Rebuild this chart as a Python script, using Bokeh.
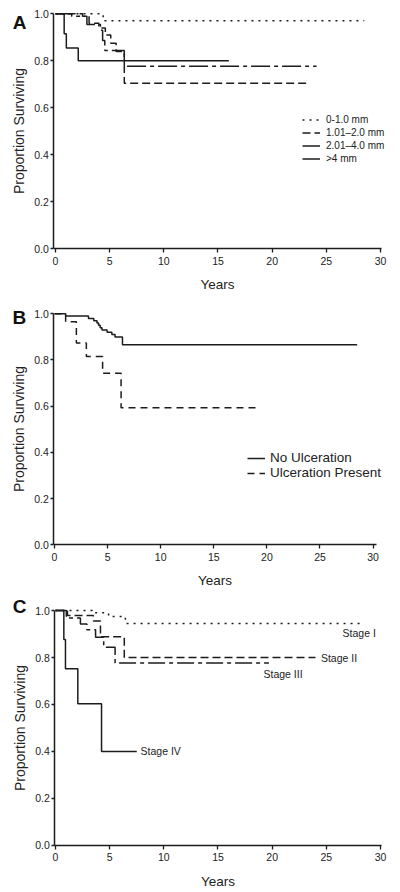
from bokeh.plotting import figure
from bokeh.layouts import column
from bokeh.models import FixedTicker, PrintfTickFormatter, Legend, LegendItem, Label, Range1d
from bokeh.embed import file_html
from bokeh.resources import INLINE

# ---------------- data ----------------
# Panel A: tumour thickness
a_thin_t = [0, 4.4, 28.5]
a_thin_s = [1.0, 0.97, 0.97]
a_mid_t = [0, 2.5, 3.1, 4.0, 4.6, 5.1, 5.6, 6.35, 23.5]
a_mid_s = [1.0, 0.99, 0.96, 0.94, 0.91, 0.875, 0.84, 0.705, 0.705]
a_thick_t = [0, 1.5, 2.9, 4.15, 4.35, 4.55, 6.35, 24.1]
a_thick_s = [1.0, 0.99, 0.955, 0.93, 0.886, 0.844, 0.777, 0.777]
a_gt4_t = [0, 0.8, 1.0, 2.1, 16.0]
a_gt4_s = [1.0, 0.915, 0.855, 0.80, 0.80]
a_labels = ["0-1.0 mm", "1.01\u20132.0 mm", "2.01\u20134.0 mm", ">4 mm"]

# Panel B: ulceration
b_noulc_t = [0, 1.05, 3.2, 3.7, 4.0, 4.15, 4.3, 4.47, 4.95, 5.4, 5.7, 6.4, 28.5]
b_noulc_s = [1.0, 0.99, 0.98, 0.97, 0.96, 0.95, 0.94, 0.93, 0.92, 0.91, 0.90, 0.866, 0.866]
b_ulc_t = [0, 1.05, 2.06, 3.0, 4.53, 6.27, 19.0]
b_ulc_s = [1.0, 0.966, 0.874, 0.815, 0.743, 0.593, 0.593]
b_labels = ["No Ulceration", "Ulceration Present"]

# Panel C: stage
c_s1_t = [0, 3.4, 4.9, 6.45, 28.5]
c_s1_s = [1.0, 0.99, 0.975, 0.945, 0.945]
c_s2_t = [0, 1.1, 3.5, 4.15, 6.35, 24.0]
c_s2_s = [1.0, 0.979, 0.955, 0.888, 0.80, 0.80]
c_s3_t = [0, 1.0, 2.3, 2.9, 3.7, 4.45, 5.5, 19.7]
c_s3_s = [1.0, 0.968, 0.943, 0.918, 0.886, 0.844, 0.777, 0.777]
c_s4_t = [0, 0.77, 0.92, 2.06, 4.25, 7.5]
c_s4_s = [1.0, 0.877, 0.752, 0.603, 0.40, 0.40]
c_labels = ["Stage I", "Stage II", "Stage III", "Stage IV"]

x_ticks = [0, 5, 10, 15, 20, 25, 30]
y_ticks = [0.0, 0.2, 0.4, 0.6, 0.8, 1.0]

INK = "#1c1c1c"
TXT = "#222222"
FONT = "Liberation Sans"


def make_panel(height, xr, xb, yr):
    p = figure(width=392, height=height, output_backend="svg", toolbar_location=None,
               x_range=Range1d(*xr), y_range=Range1d(*yr),
               min_border_left=0, min_border_right=0,
               min_border_top=0, min_border_bottom=0)
    p.title.visible = False
    p.outline_line_color = None
    p.grid.visible = False
    p.background_fill_color = "white"
    p.border_fill_color = "white"
    for ax in (p.xaxis[0], p.yaxis[0]):
        ax.axis_line_width = 1.5
        ax.axis_line_color = INK
        ax.major_tick_line_color = INK
        ax.major_tick_line_width = 1.3
        ax.major_tick_in = 0
        ax.minor_tick_line_color = None
        ax.major_label_text_font = FONT
        ax.major_label_text_font_size = "10.5px"
        ax.major_label_text_color = TXT
        ax.axis_label_text_font = FONT
        ax.axis_label_text_font_style = "normal"
        ax.axis_label_text_color = TXT
    p.xaxis.ticker = FixedTicker(ticks=x_ticks)
    p.yaxis.ticker = FixedTicker(ticks=y_ticks)
    p.yaxis.formatter = PrintfTickFormatter(format="%.1f")
    p.xaxis.bounds = xb
    p.yaxis.bounds = (0, 1.0)
    p.yaxis.fixed_location = xb[0]
    p.xaxis.fixed_location = 0
    p.xaxis.major_tick_out = 4
    p.yaxis.major_tick_out = 3
    p.xaxis.major_label_standoff = 4
    p.yaxis.major_label_standoff = 2
    p.xaxis.axis_label = "Years"
    p.yaxis.axis_label = "Proportion Surviving"
    p.xaxis.axis_label_text_font_size = "13.5px"
    p.yaxis.axis_label_text_font_size = "14px"
    p.xaxis.axis_label_standoff = 9
    p.yaxis.axis_label_standoff = 4
    return p


def letter(p, txt, x, y):
    p.add_layout(Label(x=x, y=y, text=txt, text_font=FONT, text_font_size="19px",
                       text_font_style="bold", text_color="#111111",
                       text_align="center", text_baseline="middle"))


# ---------------- Panel A ----------------
pA = make_panel(298, (-5.077, 31.108), (-0.16, 30.12), (-0.2115, 1.0566))
rA = [
    pA.step(a_thin_t, a_thin_s, mode="after", line_color=INK, line_width=1.5, line_dash="2 5"),
    pA.step(a_mid_t, a_mid_s, mode="after", line_color=INK, line_width=1.5, line_dash="8 4"),
    pA.step(a_thick_t, a_thick_s, mode="after", line_color=INK, line_width=1.5, line_dash="19 4 4 4"),
    pA.step(a_gt4_t, a_gt4_s, mode="after", line_color=INK, line_width=1.5),
]
legA = Legend(items=[LegendItem(label=l, renderers=[r]) for l, r in zip(a_labels, rA)],
              location=(302, 133), padding=0, margin=0, spacing=0,
              glyph_width=18, glyph_height=13, label_height=13, label_standoff=6,
              label_text_font=FONT, label_text_font_size="10px", label_text_color=TXT,
              border_line_color=None, background_fill_alpha=0)
pA.add_layout(legA)
letter(pA, "A", -3.32, 0.965)

# ---------------- Panel B ----------------
pB = make_panel(294, (-5.085, 31.827), (-0.07, 30.28), (-0.2065, 1.0662))
rB = [
    pB.step(b_noulc_t, b_noulc_s, mode="after", line_color=INK, line_width=1.5),
    pB.step(b_ulc_t, b_ulc_s, mode="after", line_color=INK, line_width=1.5, line_dash="7 5"),
]
legB = Legend(items=[LegendItem(label=l, renderers=[r]) for l, r in zip(b_labels, rB)],
              location=(247, 112), padding=0, margin=0, spacing=0,
              glyph_width=18, glyph_height=14, label_height=14, label_standoff=5,
              label_text_font=FONT, label_text_font_size="13.5px", label_text_color=TXT,
              border_line_color=None, background_fill_alpha=0)
pB.add_layout(legB)
letter(pB, "B", -3.3, 0.982)

# ---------------- Panel C ----------------
pC = make_panel(298, (-5.077, 31.108), (-0.06, 30.1), (-0.1915, 1.0766))
pC.step(c_s1_t, c_s1_s, mode="after", line_color=INK, line_width=1.5, line_dash="2 5")
pC.step(c_s2_t, c_s2_s, mode="after", line_color=INK, line_width=1.5, line_dash="8 4")
pC.step(c_s3_t, c_s3_s, mode="after", line_color=INK, line_width=1.5, line_dash="17 4 4 4")
pC.step(c_s4_t, c_s4_s, mode="after", line_color=INK, line_width=1.5)
for txt, x, y in zip(c_labels, [26.5, 24.5, 19.2, 7.85], [0.903, 0.797, 0.73, 0.404]):
    pC.add_layout(Label(x=x, y=y, text=txt, text_font=FONT, text_font_size="10.5px",
                        text_color=TXT, text_align="left", text_baseline="middle"))
letter(pC, "C", -3.32, 1.019)

layout = column(pA, pB, pC, spacing=0)
open("out.html", "w").write(file_html(layout, INLINE))
